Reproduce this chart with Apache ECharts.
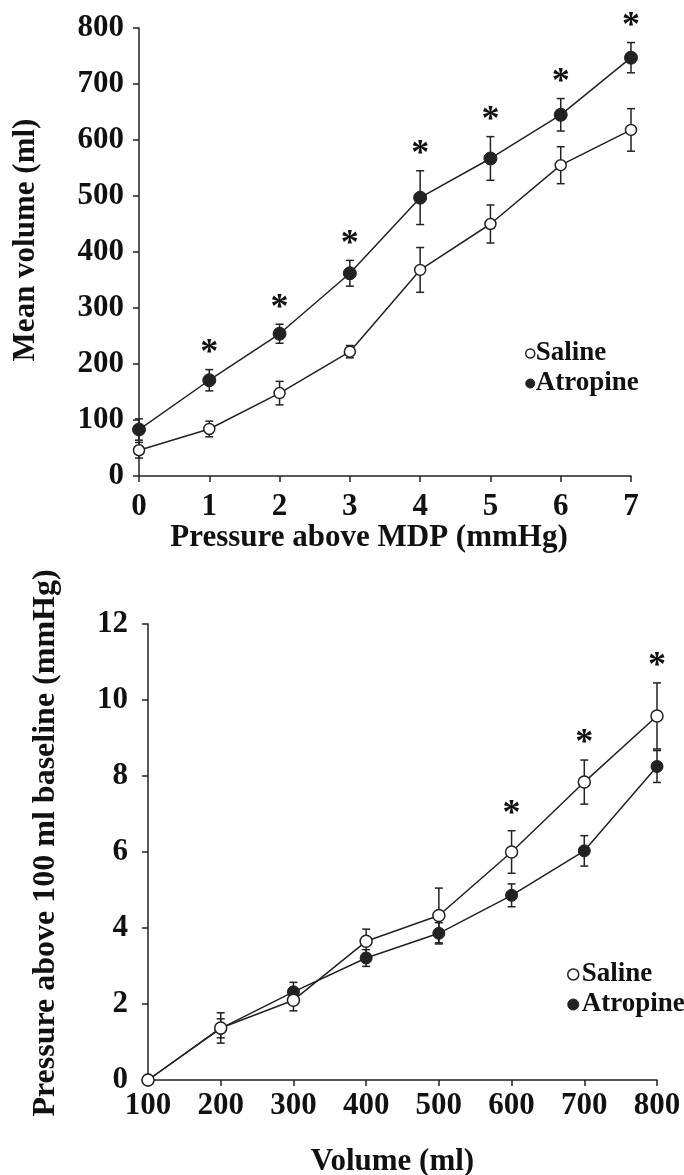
<!DOCTYPE html>
<html>
<head>
<meta charset="utf-8">
<script src="https://cdn.jsdelivr.net/npm/echarts@6/dist/echarts.min.js"></script>
<style>
  html, body { margin: 0; padding: 0; background: #fff; }
  #chart { width: 684px; height: 1175px; }
</style>
</head>
<body>
<div id="chart"></div>
<script>
// ---------- Data ----------
// Top panel: volume vs pressure above MDP
const topPressure = [0, 1, 2, 3, 4, 5, 6, 7];
const topSaline = [46, 84, 148, 222, 368, 450, 555, 618];
const topSalineErr = [14, 14, 21, 11, 40, 34, 33, 38];
const topAtropine = [83, 171, 254, 362, 497, 567, 645, 747];
const topAtropineErr = [19, 19, 17, 23, 48, 39, 29, 27];
const topStars = [1, 2, 3, 4, 5, 6, 7];

// Bottom panel: pressure vs volume
const botVolume = [100, 200, 300, 400, 500, 600, 700, 800];
const botSaline = [0, 1.37, 2.1, 3.65, 4.33, 6.0, 7.84, 9.58];
const botSalineErr = [0, 0.4, 0.28, 0.32, 0.72, 0.56, 0.58, 0.87];
const botAtropine = [0, 1.36, 2.32, 3.21, 3.86, 4.86, 6.03, 8.25];
const botAtropineErr = [0, 0.25, 0.25, 0.22, 0.28, 0.3, 0.4, 0.42];
const botStars = [600, 700, 800];

const topYTicks = { min: 0, max: 800, interval: 100 };
const topXTicks = { min: 0, max: 7, interval: 1 };
const botYTicks = { min: 0, max: 12, interval: 2 };
const botXTicks = { min: 100, max: 800, interval: 100 };

// ---------- Helpers ----------
const FONT = '"Liberation Serif", "Times New Roman", serif';
const pairs = (xs, ys) => xs.map((x, i) => [x, ys[i]]);
const errData = (xs, ys, es) => xs.map((x, i) => [x, ys[i] - es[i], ys[i] + es[i]]);
const starData = (xs, starXs, ys, es) =>
  starXs.map(sx => { const i = xs.indexOf(sx); return [sx, ys[i] + es[i]]; });

function errRender(params, api) {
  const x = api.value(0);
  const lo = api.coord([x, api.value(1)]);
  const hi = api.coord([x, api.value(2)]);
  if (Math.abs(lo[1] - hi[1]) < 1) return null;
  const w = 4;
  const st = { stroke: '#222', lineWidth: 1.5 };
  return {
    type: 'group',
    children: [
      { type: 'line', shape: { x1: lo[0], y1: lo[1], x2: hi[0], y2: hi[1] }, style: st },
      { type: 'line', shape: { x1: lo[0] - w, y1: lo[1], x2: lo[0] + w, y2: lo[1] }, style: st },
      { type: 'line', shape: { x1: hi[0] - w, y1: hi[1], x2: hi[0] + w, y2: hi[1] }, style: st }
    ]
  };
}
function starRender(params, api) {
  const p = api.coord([api.value(0), api.value(1)]);
  return {
    type: 'text',
    style: {
      text: '*', x: p[0], y: p[1] + 2,
      align: 'center', verticalAlign: 'bottom',
      font: 'bold 36px ' + FONT, fill: '#111'
    }
  };
}

const axisLine = { show: true, lineStyle: { color: '#222', width: 1.5 } };
const axisTick = { show: true, length: 6, lineStyle: { color: '#222', width: 1.5 } };
const labelStyle = { color: '#111', fontFamily: FONT, fontWeight: 'bold', fontSize: 31 };
const nameStyle = { color: '#111', fontFamily: FONT, fontWeight: 'bold', fontSize: 31 };

const salineStyle = { color: '#fff', borderColor: '#222', borderWidth: 1.5 };
const atropineStyle = { color: '#222', borderColor: '#222', borderWidth: 1 };

function lineSeries(name, xi, yi, data, style, size) {
  return {
    type: 'line', name, xAxisIndex: xi, yAxisIndex: yi, data,
    symbol: 'circle', symbolSize: size, showSymbol: true,
    lineStyle: { color: '#222', width: 1.5 }, itemStyle: style,
    z: 3, animation: false
  };
}
function errSeries(xi, yi, data) {
  return { type: 'custom', xAxisIndex: xi, yAxisIndex: yi, data, renderItem: errRender, z: 2, animation: false, silent: true };
}
function starSeries(xi, yi, data) {
  return { type: 'custom', xAxisIndex: xi, yAxisIndex: yi, data, renderItem: starRender, z: 4, animation: false, silent: true, clip: false };
}

const chart = echarts.init(document.getElementById('chart'), null, { renderer: 'canvas' });
chart.setOption({
  backgroundColor: '#fff',
  animation: false,
  grid: [
    { left: 139, right: 53, top: 28, height: 448, outerBoundsMode: 'none', containLabel: false },
    { left: 148, right: 27, top: 624, height: 456, outerBoundsMode: 'none', containLabel: false }
  ],
  xAxis: [
    Object.assign({ type: 'value', gridIndex: 0, name: 'Pressure above MDP (mmHg)', nameLocation: 'middle', nameGap: 44,
      nameTextStyle: Object.assign({ padding: [0, 32, 0, 0] }, nameStyle), axisLine, axisTick, splitLine: { show: false },
      axisLabel: Object.assign({ margin: 15 }, labelStyle) }, topXTicks),
    Object.assign({ type: 'value', gridIndex: 1, name: 'Volume (ml)', nameLocation: 'middle', nameGap: 66,
      nameTextStyle: Object.assign({ padding: [0, 20, 0, 0] }, nameStyle), axisLine, axisTick, splitLine: { show: false },
      axisLabel: Object.assign({ margin: 10 }, labelStyle) }, botXTicks)
  ],
  yAxis: [
    Object.assign({ type: 'value', gridIndex: 0, name: 'Mean volume (ml)', nameLocation: 'middle', nameGap: 98,
      nameTextStyle: Object.assign({ padding: [0, 0, 0, 24] }, nameStyle), axisLine, axisTick, splitLine: { show: false },
      axisLabel: Object.assign({ margin: 15 }, labelStyle) }, topYTicks),
    Object.assign({ type: 'value', gridIndex: 1, name: 'Pressure above 100 ml baseline (mmHg)', nameLocation: 'middle', nameGap: 86,
      nameTextStyle: Object.assign({ padding: [0, 0, 0, 18] }, nameStyle, { fontSize: 32 }), axisLine, axisTick, splitLine: { show: false },
      axisLabel: Object.assign({ margin: 20 }, labelStyle) }, botYTicks)
  ],
  legend: [
    { orient: 'vertical', left: 520, top: 335, itemGap: 3, itemWidth: 9, itemHeight: 9,
      textStyle: { color: '#111', fontFamily: FONT, fontWeight: 'bold', fontSize: 27, padding: [0, 0, 0, -4] },
      data: [
        { name: 'Saline', icon: 'circle', itemStyle: salineStyle },
        { name: 'Atropine', icon: 'circle', itemStyle: atropineStyle }
      ] },
    { orient: 'vertical', left: 562, top: 956, itemGap: 3, itemWidth: 11, itemHeight: 11,
      textStyle: { color: '#111', fontFamily: FONT, fontWeight: 'bold', fontSize: 27, padding: [0, 0, 0, -2] },
      data: [
        { name: 'Saline', icon: 'circle', itemStyle: salineStyle },
        { name: 'Atropine', icon: 'circle', itemStyle: atropineStyle }
      ] }
  ],
  series: [
    errSeries(0, 0, errData(topPressure, topSaline, topSalineErr)),
    errSeries(0, 0, errData(topPressure, topAtropine, topAtropineErr)),
    lineSeries('Saline', 0, 0, pairs(topPressure, topSaline), salineStyle, 11),
    lineSeries('Atropine', 0, 0, pairs(topPressure, topAtropine), atropineStyle, 13),
    starSeries(0, 0, starData(topPressure, topStars, topAtropine, topAtropineErr)),

    errSeries(1, 1, errData(botVolume, botSaline, botSalineErr)),
    errSeries(1, 1, errData(botVolume, botAtropine, botAtropineErr)),
    lineSeries('Atropine', 1, 1, pairs(botVolume, botAtropine), atropineStyle, 12),
    lineSeries('Saline', 1, 1, pairs(botVolume, botSaline), salineStyle, 12),
    starSeries(1, 1, starData(botVolume, botStars, botSaline, botSalineErr))
  ]
});
</script>
</body>
</html>
